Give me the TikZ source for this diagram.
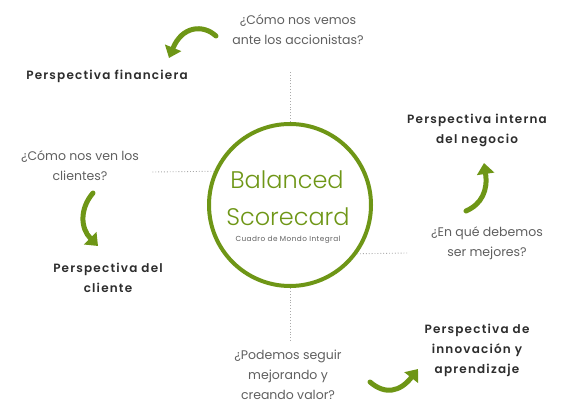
\documentclass[tikz,border=0pt]{standalone}
\usepackage{fontspec}
\setmainfont{Poppins}
\newfontfamily\lightfont{Poppins Light}
\newfontfamily\perspfont{Poppins SemiBold}[LetterSpace=10]
\newfontfamily\subfont{Poppins}[LetterSpace=6]
\usetikzlibrary{arrows.meta}
\definecolor{bsgreen}{RGB}{110,150,22}
\definecolor{qgray}{RGB}{95,95,95}
\definecolor{pdark}{RGB}{45,45,45}
\definecolor{dotgray}{RGB}{170,170,170}
\tikzset{
  question/.style={align=center, text=qgray, font=\fontsize{12.5}{20}\selectfont, inner sep=0pt},
  persp/.style={align=center, text=pdark, font=\perspfont\fontsize{12}{20}\selectfont, inner sep=0pt},
  garrow/.style={draw=bsgreen, line width=5pt, line cap=round, -{Triangle[length=11pt,width=17pt]}},
  dotline/.style={draw=dotgray, dotted, line width=0.9pt},
}
\begin{document}
\begin{tikzpicture}[x=1pt,y=-1pt]
\useasboundingbox (0,0) rectangle (567,419);
\node[circle, draw=bsgreen, line width=4pt, minimum size=162pt, inner sep=0pt] (c) at (290,205) {};
\node[text=bsgreen, font=\lightfont\fontsize{24}{28}\selectfont, inner sep=0pt] (bal) at (287,180) {Balanced};
\node[text=bsgreen, font=\lightfont\fontsize{24}{28}\selectfont, inner sep=0pt] (sco) at (288,217) {Scorecard};
\node[text=qgray, font=\subfont\fontsize{7.3}{8}\selectfont, inner sep=0pt] (sub) at (288,240) {Cuadro de Mondo Integral};

\coordinate (dt) at (290,70);
\coordinate (dl) at (152,172);
\coordinate (dr) at (407,253);
\coordinate (db) at (290,343);
\draw[dotline] (c.north) -- (dt);
\draw[dotline] (c.156) -- (dl);
\draw[dotline] (c.-36.3) -- (dr);
\draw[dotline] (c.south) -- (db);

\node[question] (q1) at (298,30) {¿Cómo nos vemos\\ante los accionistas?};
\node[persp] (p1) at (107,76) {Perspectiva financiera};
\node[question] (q2) at (80,166) {¿Cómo nos ven los\\clientes?};
\node[persp] (p2) at (108,278) {Perspectiva del\\cliente};
\node[persp] (p3) at (477,130) {Perspectiva interna\\del negocio};
\node[question] (q3) at (487,243) {¿En qué debemos\\ser mejores?};
\node[question] (q4) at (288,375) {¿Podemos seguir\\mejorando y\\creando valor?};
\node[persp] (p4) at (477,350) {Perspectiva de\\innovación y\\aprendizaje};

\coordinate (a1s) at (216,36);
\coordinate (a1e) at (169,58);
\draw[garrow] (a1s) .. controls (203,24) and (182,26) .. (a1e);
\coordinate (a2s) at (93,193);
\coordinate (a2e) at (98,246);
\draw[garrow] (a2s) .. controls (80,208) and (80,228) .. (a2e);
\coordinate (a3s) at (466,211);
\coordinate (a3e) at (484,163);
\draw[garrow] (a3s) .. controls (482,204) and (488,190) .. (a3e);
\coordinate (a4s) at (370,382);
\coordinate (a4e) at (418,369);
\draw[garrow] (a4s) .. controls (385,395) and (400,392) .. (a4e);
\end{tikzpicture}
\end{document}
